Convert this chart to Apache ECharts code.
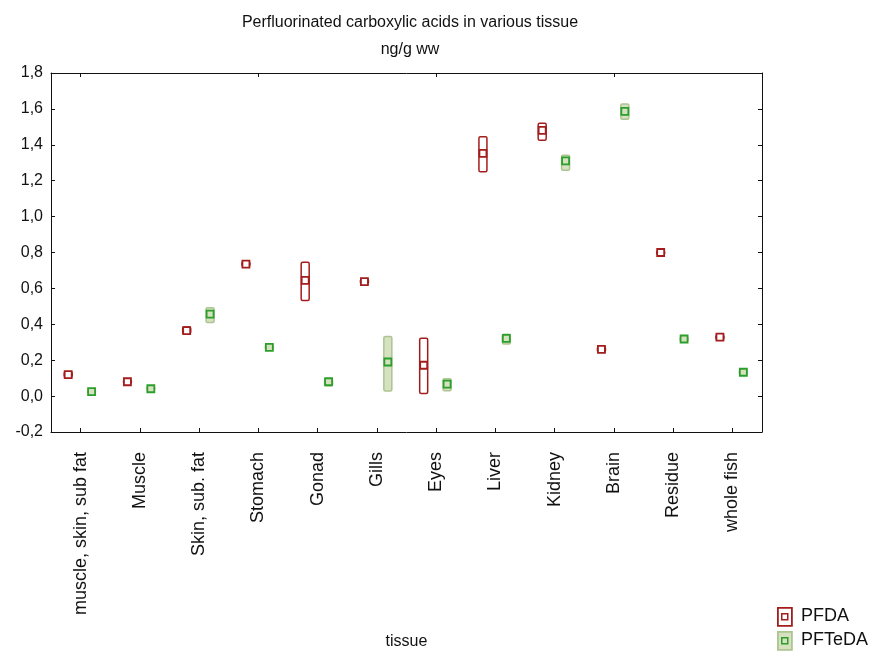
<!DOCTYPE html>
<html>
<head>
<meta charset="utf-8">
<title>Perfluorinated carboxylic acids in various tissue</title>
<script src="https://cdn.jsdelivr.net/npm/echarts@6/dist/echarts.min.js"></script>
<style>
  html, body { margin: 0; padding: 0; background: #fff; }
  #chart { width: 878px; height: 653px; }
</style>
</head>
<body>
<div id="chart"></div>
<script>
// tissue categories
const categories = ['muscle, skin, sub fat', 'Muscle', 'Skin, sub. fat', 'Stomach', 'Gonad', 'Gills',
  'Eyes', 'Liver', 'Kidney', 'Brain', 'Residue', 'whole fish']

// PFDA: mean and box range (ng/g ww)
const pfdaMean = [0.12, 0.08, 0.365, 0.735, 0.645, 0.638, 0.172, 1.352, 1.48, 0.26, 0.8, 0.328]
const pfdaLow = [0.105, 0.07, 0.347, 0.723, 0.532, 0.624, 0.015, 1.25, 1.425, 0.245, 0.789, 0.316]
const pfdaHigh = [0.135, 0.09, 0.385, 0.748, 0.745, 0.652, 0.322, 1.445, 1.52, 0.276, 0.81, 0.341]

// PFTeDA: mean and box range (ng/g ww)
const pfteMean = [0.025, 0.041, 0.457, 0.272, 0.08, 0.19, 0.067, 0.322, 1.31, 1.586, 0.318, 0.133]
const pfteLow = [0.018, 0.034, 0.41, 0.26, 0.058, 0.028, 0.03, 0.29, 1.258, 1.542, 0.307, 0.119]
const pfteHigh = [0.032, 0.049, 0.492, 0.285, 0.095, 0.332, 0.097, 0.345, 1.342, 1.627, 0.329, 0.147]

// y ticks
const yMin = -0.2
const yMax = 1.8
const yStep = 0.2

const FONT = 'Liberation Sans, Arial, sans-serif'

function toRows(low, high, mean) {
  return categories.map((c, i) => [i, low[i], high[i], mean[i]])
}

function boxRenderer(offsetFrac, st) {
  return function (params, api) {
    const cat = api.value(0)
    const lo = api.coord([cat, api.value(1)])
    const hi = api.coord([cat, api.value(2)])
    const mid = api.coord([cat, api.value(3)])
    const band = api.size([1, 0])[0]
    const cx = mid[0] + band * offsetFrac
    const bw = 8
    const ms = 7
    return {
      type: 'group',
      children: [
        {
          type: 'rect',
          shape: { x: cx - bw / 2, y: hi[1], width: bw, height: Math.max(lo[1] - hi[1], 2), r: 1.5 },
          style: { fill: st.boxFill, stroke: st.boxStroke, lineWidth: 1.5 }
        },
        {
          type: 'rect',
          shape: { x: cx - ms / 2, y: mid[1] - ms / 2, width: ms, height: ms },
          style: { fill: st.markFill, stroke: st.markStroke, lineWidth: 1.8 }
        }
      ]
    }
  }
}

const red = { boxFill: '#ffffff', boxStroke: '#a31d1d', markFill: '#ffffff', markStroke: '#a31d1d' }
const green = { boxFill: '#d5e1bf', boxStroke: '#aec493', markFill: '#d5e1bf', markStroke: '#2b9e2b' }

const axisLine = { show: true, onZero: false, lineStyle: { color: '#111', width: 1 } }
const tickIn = { show: true, inside: true, length: 4, lineStyle: { color: '#111' } }

const option = {
  animation: false,
  backgroundColor: '#fff',
  grid: { left: 51, right: 116, top: 73, bottom: 221, outerBoundsMode: 'none', containLabel: false },
  xAxis: [
    {
      type: 'category',
      data: categories,
      boundaryGap: true,
      axisLine: axisLine,
      axisTick: { show: true, inside: true, length: 4, alignWithLabel: true, lineStyle: { color: '#111' } },
      axisLabel: { rotate: 90, margin: 20, color: '#111', fontSize: 18, fontFamily: FONT, interval: 0 },
      splitLine: { show: false },
      name: 'tissue',
      nameLocation: 'middle',
      nameGap: 202,
      nameTextStyle: { color: '#111', fontSize: 16, fontFamily: FONT }
    },
    {
      type: 'category',
      data: categories,
      position: 'top',
      boundaryGap: true,
      axisLine: axisLine,
      axisTick: { show: true, inside: true, length: 4, alignWithLabel: true, lineStyle: { color: '#111' } },
      axisLabel: { show: false }
    }
  ],
  yAxis: [
    {
      type: 'value',
      min: yMin,
      max: yMax,
      interval: yStep,
      axisLine: axisLine,
      axisTick: tickIn,
      splitLine: { show: false },
      axisLabel: {
        margin: 8,
        color: '#111',
        fontSize: 16,
        fontFamily: FONT,
        formatter: v => v.toFixed(1).replace('.', ',')
      }
    },
    {
      type: 'value',
      min: yMin,
      max: yMax,
      interval: yStep,
      position: 'right',
      axisLine: axisLine,
      axisTick: tickIn,
      splitLine: { show: false },
      axisLabel: { show: false }
    }
  ],
  series: [
    {
      name: 'PFDA',
      type: 'custom',
      renderItem: boxRenderer(-0.21, red),
      encode: { x: 0, y: [1, 2, 3] },
      data: toRows(pfdaLow, pfdaHigh, pfdaMean),
      z: 3
    },
    {
      name: 'PFTeDA',
      type: 'custom',
      renderItem: boxRenderer(0.185, green),
      encode: { x: 0, y: [1, 2, 3] },
      data: toRows(pfteLow, pfteHigh, pfteMean),
      z: 3
    }
  ],
  graphic: [
    {
      type: 'text', x: 410, y: 15,
      style: { text: 'Perfluorinated carboxylic acids in various tissue', fill: '#111', font: '16px ' + FONT, textAlign: 'center' }
    },
    {
      type: 'text', x: 410, y: 42,
      style: { text: 'ng/g ww', fill: '#111', font: '16px ' + FONT, textAlign: 'center' }
    },
    // legend
    { type: 'rect', left: 777, top: 607, shape: { width: 14, height: 18 }, style: { fill: '#fff', stroke: '#a31d1d', lineWidth: 1.8 } },
    { type: 'rect', left: 781, top: 613, shape: { width: 6, height: 6 }, style: { fill: '#fff', stroke: '#a31d1d', lineWidth: 1.5 } },
    { type: 'text', left: 801, top: 607, style: { text: 'PFDA', fill: '#111', font: '18px ' + FONT } },
    { type: 'rect', left: 777, top: 631, shape: { width: 14, height: 18 }, style: { fill: '#d5e1bf', stroke: '#aec493', lineWidth: 1.8 } },
    { type: 'rect', left: 781, top: 637, shape: { width: 6, height: 6 }, style: { fill: '#d5e1bf', stroke: '#2b9e2b', lineWidth: 1.5 } },
    { type: 'text', left: 801, top: 631, style: { text: 'PFTeDA', fill: '#111', font: '18px ' + FONT } }
  ]
}

const myChart = echarts.init(document.getElementById('chart'))
myChart.setOption(option, true)
</script>
</body>
</html>
